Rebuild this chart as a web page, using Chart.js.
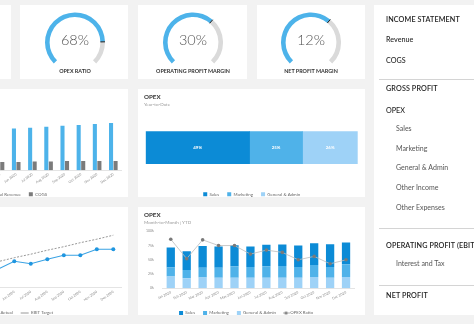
<!DOCTYPE html>
<html>
<head>
<meta charset="utf-8">
<title>Income Statement Dashboard</title>
<script src="https://cdn.jsdelivr.net/npm/chart.js@4.4.1/dist/chart.umd.min.js"></script>
<style>
  html, body { margin: 0; padding: 0; }
  body { width: 474px; height: 324px; overflow: hidden; position: relative; background: #f2f2f2; font-family: Lato, "Open Sans", sans-serif; }
  .card { position: absolute; background: #fff; }
  canvas { position: absolute; }
  .txt { position: absolute; white-space: nowrap; line-height: 10px; height: 10px; }
  .rule { position: absolute; height: 1px; background: #d4d4d4; }
</style>
</head>
<body>
<div class="card" style="left:-98px;top:5px;width:109px;height:74px"></div>
<div class="card" style="left:20px;top:5px;width:108px;height:74px"></div>
<div class="card" style="left:138px;top:5px;width:109px;height:74px"></div>
<div class="card" style="left:257px;top:5px;width:108px;height:74px"></div>
<div class="card" style="left:-98px;top:89px;width:226px;height:108px"></div>
<div class="card" style="left:138px;top:89px;width:227px;height:108px"></div>
<div class="card" style="left:-98px;top:207px;width:226px;height:108px"></div>
<div class="card" style="left:138px;top:207px;width:227px;height:108px"></div>
<div class="card" style="left:374px;top:5px;width:110px;height:310px"></div>

<script>
// ---------- data ----------
const months = ['Jan 2020', 'Feb 2020', 'Mar 2020', 'Apr 2020', 'May 2020', 'Jun 2020',
                'Jul 2020', 'Aug 2020', 'Sep 2020', 'Oct 2020', 'Nov 2020', 'Dec 2020'];

// KPI gauges (percent)
const gaugeTitles = ['OPEX RATIO', 'OPERATING PROFIT MARGIN', 'NET PROFIT MARGIN'];
const gaugeValues = [68, 30, 12];
const gaugeScaleMax = [82, 46, 18.5];

// Revenue vs COGS ($k)
const revenue = [185, 190, 196, 203, 205, 209, 213, 218, 223, 226, 231, 236];
const cogs = [38, 39, 40, 41, 42, 42, 44, 44, 46, 46, 47, 47];

// EBIT ($k)
const ebitActual = [30, 24, 33, 31, 37, 53, 48, 57, 65, 65, 77, 77];
const ebitTarget = [22, 30, 37, 45, 52, 60, 67, 75, 82, 90, 97, 105];

// OPEX year-to-date split (%)
const opexCategories = ['Sales', 'Marketing', 'General & Admin'];
const opexYtdShare = [49, 25, 26];

// OPEX month-to-month ($k) and OPEX ratio (%)
const opexSales = [35, 33, 38, 37.5, 37, 36, 38, 38, 37.5, 38, 40, 38.5];
const opexMarketing = [16, 14.5, 17, 17.5, 20, 19, 20, 20.5, 19, 21, 19, 22];
const opexGeneral = [20.5, 17.5, 19, 18.5, 18.5, 18.5, 18.5, 18.5, 18.5, 20, 18.5, 20];
const opexRatio = [86, 52, 85, 75, 75, 60, 67, 63, 50, 56, 43, 50];

// Income statement navigation
const statementRows = ['INCOME STATEMENT', 'Revenue', 'COGS', 'GROSS PROFIT', 'OPEX', 'Sales', 'Marketing',
  'General & Admin', 'Other Income', 'Other Expenses', 'OPERATING PROFIT (EBIT)', 'Interest and Tax', 'NET PROFIT'];
const statementLevels = [0, 1, 1, 0, 1, 2, 2, 2, 2, 2, 0, 2, 0];

// ---------- palette ----------
const C_BLUE = '#4db3ea';
const C_SALES = '#0c8bd6';
const C_MKT = '#4fb2e9';
const C_GA = '#9ed2f7';
const C_GREY = '#7b7b7b';

Chart.defaults.font.family = 'Lato, "Open Sans", sans-serif';
Chart.defaults.animation = false;
Chart.defaults.responsive = false;
Chart.defaults.events = [];
Chart.defaults.plugins.tooltip.enabled = false;

function makeCanvas(left, top, w, h) {
  const c = document.createElement('canvas');
  c.width = w; c.height = h;
  c.style.left = left + 'px'; c.style.top = top + 'px';
  c.style.width = w + 'px'; c.style.height = h + 'px';
  document.body.appendChild(c);
  return c;
}
function addText(text, left, top, css) {
  const d = document.createElement('div');
  d.className = 'txt';
  d.textContent = text;
  d.style.left = left + 'px'; d.style.top = top + 'px';
  Object.assign(d.style, css || {});
  document.body.appendChild(d);
  return d;
}
function lineDotIcon(lineColor, dotColor, w, h, r) {
  const c = document.createElement('canvas');
  c.width = w; c.height = h;
  const g = c.getContext('2d');
  g.strokeStyle = lineColor; g.lineWidth = 1;
  g.beginPath(); g.moveTo(0, h / 2); g.lineTo(w, h / 2); g.stroke();
  g.fillStyle = dotColor;
  g.beginPath(); g.arc(w / 2, h / 2, r, 0, Math.PI * 2); g.fill();
  return c;
}
// moves a bottom legend sideways after the layout pass
function legendShift(dx) {
  return {
    id: 'legendShift',
    afterLayout(chart) {
      if (chart.legend) { chart.legend.left += dx; chart.legend.right += dx; }
    }
  };
}

// ---------- gauges ----------
const gaugeTick = {
  id: 'gaugeTick',
  afterDatasetsDraw(chart) {
    const arc = chart.getDatasetMeta(0).data[0];
    const p = arc.getProps(['x', 'y', 'endAngle', 'innerRadius', 'outerRadius'], true);
    const ctx = chart.ctx;
    ctx.save();
    ctx.strokeStyle = '#1e1e1e';
    ctx.lineWidth = 1;
    ctx.beginPath();
    ctx.moveTo(p.x + Math.cos(p.endAngle) * p.innerRadius, p.y + Math.sin(p.endAngle) * p.innerRadius);
    ctx.lineTo(p.x + Math.cos(p.endAngle) * p.outerRadius, p.y + Math.sin(p.endAngle) * p.outerRadius);
    ctx.stroke();
    ctx.restore();
  }
};
const gaugeCenters = [75, 193, 311];
gaugeValues.forEach((v, i) => {
  const cx = gaugeCenters[i];
  new Chart(makeCanvas(cx - 30, 12, 60, 52), {
    type: 'doughnut',
    data: { datasets: [{ data: [v, gaugeScaleMax[i] - v], backgroundColor: [C_BLUE, '#dadada'], borderWidth: 0 }] },
    options: { rotation: -135, circumference: 270, cutout: 22, plugins: { legend: { display: false } } },
    plugins: [gaugeTick]
  });
  addText(v + '%', cx - 30, 35, { width: '60px', textAlign: 'center', fontSize: '14.5px', fontWeight: '300', color: '#555', lineHeight: '10px' });
  addText(gaugeTitles[i], cx - 50, 66, { width: '100px', textAlign: 'center', fontSize: '5.4px', fontWeight: '700', color: '#333' });
});

// ---------- Revenue vs COGS ----------
new Chart(makeCanvas(-98, 89, 226, 118), {
  type: 'bar',
  data: {
    labels: months,
    datasets: [
      { label: 'Total Revenue', data: revenue, backgroundColor: C_BLUE },
      { label: 'COGS', data: cogs, backgroundColor: C_GREY }
    ]
  },
  options: {
    layout: { padding: { left: 25.2, right: 6.6, top: 21.3, bottom: 0.5 } },
    datasets: { bar: { categoryPercentage: 0.56, barPercentage: 0.9 } },
    scales: {
      x: {
        grid: { display: false, drawTicks: false },
        border: { color: '#e4e4e4' },
        ticks: { font: { size: 3.5 }, color: '#8a8a8a', minRotation: 35, maxRotation: 35, padding: 2, autoSkip: false },
        afterFit(s) { s.height = 13.8; }
      },
      y: { display: false, min: 0, max: 300 }
    },
    plugins: {
      legend: { position: 'bottom', labels: { font: { size: 4.4 }, color: '#666', boxWidth: 4, boxHeight: 4, padding: 8 } }
    }
  },
  plugins: [legendShift(-7)]
});

// ---------- OPEX year-to-date ----------
const segmentLabels = {
  id: 'segmentLabels',
  afterDatasetsDraw(chart) {
    const ctx = chart.ctx;
    ctx.save();
    ctx.fillStyle = '#fff';
    ctx.font = 'bold 4.4px Lato, sans-serif';
    ctx.textAlign = 'center';
    ctx.textBaseline = 'middle';
    chart.data.datasets.forEach((ds, i) => {
      chart.getDatasetMeta(i).data.forEach((bar, j) => {
        const p = bar.getProps(['x', 'y', 'base'], true);
        ctx.fillText(ds.data[j] + '%', (p.x + p.base) / 2, p.y);
      });
    });
    ctx.restore();
  }
};
const ytdColors = [C_SALES, C_MKT, C_GA];
new Chart(makeCanvas(138, 89, 227, 118), {
  type: 'bar',
  data: {
    labels: ['YTD'],
    datasets: opexCategories.map((name, i) => ({ label: name, data: [opexYtdShare[i]], backgroundColor: ytdColors[i], barThickness: 32 }))
  },
  options: {
    indexAxis: 'y',
    layout: { padding: { left: 7.7, right: 7.3, top: 22.3, bottom: 0.5 } },
    scales: {
      x: { display: false, stacked: true, min: 0, max: 100 },
      y: { display: false, stacked: true }
    },
    plugins: {
      legend: { position: 'bottom', labels: { font: { size: 4.4 }, color: '#666', boxWidth: 4, boxHeight: 4, padding: 8 } }
    }
  },
  plugins: [segmentLabels]
});
addText('OPEX', 144, 92, { fontSize: '6.2px', fontWeight: '700', color: '#333' });
addText('Year-to-Date', 144, 99, { fontSize: '4.6px', color: '#9a9a9a' });

// ---------- EBIT actual vs target ----------
const actualIcon = lineDotIcon('#3aa2e3', '#3aa2e3', 8, 5, 1.8);
new Chart(makeCanvas(-98, 207, 226, 119), {
  type: 'line',
  data: {
    labels: months,
    datasets: [
      { label: 'EBIT Actual', data: ebitActual, borderColor: '#3aa2e3', backgroundColor: '#3aa2e3', borderWidth: 1.1,
        pointRadius: 2, pointBackgroundColor: '#1f96e0', pointBorderWidth: 0, tension: 0 },
      { label: 'EBIT Target', data: ebitTarget, borderColor: '#8c8c8c', backgroundColor: '#8c8c8c', borderWidth: 0.9,
        borderDash: [2, 1.5], pointRadius: 0, tension: 0 }
    ]
  },
  options: {
    layout: { padding: { left: 21.55, right: 6.45, top: 20.7, bottom: 0.8 } },
    scales: {
      x: {
        offset: true,
        grid: { display: false, drawTicks: false },
        border: { color: '#e4e4e4' },
        ticks: { font: { size: 3.5 }, color: '#8a8a8a', minRotation: 35, maxRotation: 35, padding: 2, autoSkip: false },
        afterFit(s) { s.height = 15.1; }
      },
      y: { display: false, min: 0, max: 120 }
    },
    plugins: {
      legend: {
        position: 'bottom',
        labels: {
          font: { size: 4.4 }, color: '#666', usePointStyle: true, pointStyleWidth: 8, boxHeight: 4, padding: 8,
          generateLabels(chart) {
            const items = Chart.defaults.plugins.legend.labels.generateLabels(chart);
            items.forEach(it => { it.pointStyle = it.datasetIndex === 0 ? actualIcon : 'line'; });
            return items;
          }
        }
      }
    }
  },
  plugins: [legendShift(-6)]
});

// ---------- OPEX month-to-month ----------
const ratioIcon = lineDotIcon('#b0b0b0', '#7a7a7a', 7, 5, 1.6);
new Chart(makeCanvas(138, 207, 227, 119), {
  type: 'bar',
  data: {
    labels: months,
    datasets: [
      { label: 'Sales', data: opexSales, backgroundColor: C_SALES, order: 3 },
      { label: 'Marketing', data: opexMarketing, backgroundColor: C_MKT, order: 2 },
      { label: 'General & Admin', data: opexGeneral, backgroundColor: C_GA, order: 1 },
      { type: 'line', label: 'OPEX Ratio', data: opexRatio, yAxisID: 'y1', order: 0,
        borderColor: '#bdbdbd', backgroundColor: '#7a7a7a', borderWidth: 0.8,
        pointRadius: 1.8, pointBackgroundColor: '#7a7a7a', pointBorderWidth: 0, tension: 0 }
    ]
  },
  options: {
    layout: { padding: { left: 0, right: 11, top: 24.3, bottom: 0.8 } },
    datasets: { bar: { categoryPercentage: 0.8, barPercentage: 0.65 } },
    scales: {
      x: {
        stacked: true,
        grid: { display: false, drawTicks: false },
        border: { color: '#e4e4e4' },
        ticks: { font: { size: 3.5 }, color: '#8a8a8a', minRotation: 25, maxRotation: 25, padding: 2, autoSkip: false },
        afterFit(s) { s.height = 14.5; }
      },
      y: {
        stacked: true, min: 0, max: 100,
        grid: { display: false, drawTicks: false },
        border: { display: false },
        ticks: { stepSize: 25, font: { size: 3.5 }, color: '#8a8a8a', padding: 9, callback: v => v + 'k' },
        afterFit(s) { s.width = 24.8; }
      },
      y1: { display: false, min: 0, max: 100 }
    },
    plugins: {
      legend: {
        position: 'bottom',
        labels: {
          font: { size: 4.4 }, color: '#666', usePointStyle: true, pointStyleWidth: 4, boxHeight: 4, padding: 8,
          sort: (a, b) => a.datasetIndex - b.datasetIndex,
          generateLabels(chart) {
            const items = Chart.defaults.plugins.legend.labels.generateLabels(chart);
            items.forEach(it => { it.pointStyle = it.datasetIndex === 3 ? ratioIcon : 'rect'; });
            return items;
          }
        }
      }
    }
  }
});
addText('OPEX', 144, 210, { fontSize: '6.2px', fontWeight: '700', color: '#333' });
addText('Month-to-Month | YTD', 144, 217, { fontSize: '4.6px', color: '#9a9a9a' });

// ---------- income statement panel ----------
const rowCenters = [20, 40.2, 60.8, 89.3, 111, 128.3, 148.2, 166.7, 187.5, 207, 245.8, 263.2, 296];
const levelStyle = [
  { x: 386, css: { fontSize: '7.2px', fontWeight: '600', color: '#222', letterSpacing: '0.12px' } },
  { x: 386, css: { fontSize: '7.2px', fontWeight: '500', color: '#262626' } },
  { x: 396, css: { fontSize: '7px', fontWeight: '400', color: '#555' } }
];
statementRows.forEach((t, i) => {
  const s = levelStyle[statementLevels[i]];
  addText(t, s.x, rowCenters[i] - 5.2, s.css);
});
[79, 228, 285].forEach(y => {
  const r = document.createElement('div');
  r.className = 'rule';
  r.style.left = '379px'; r.style.top = y + 'px'; r.style.width = '100px';
  document.body.appendChild(r);
});
</script>
</body>
</html>
